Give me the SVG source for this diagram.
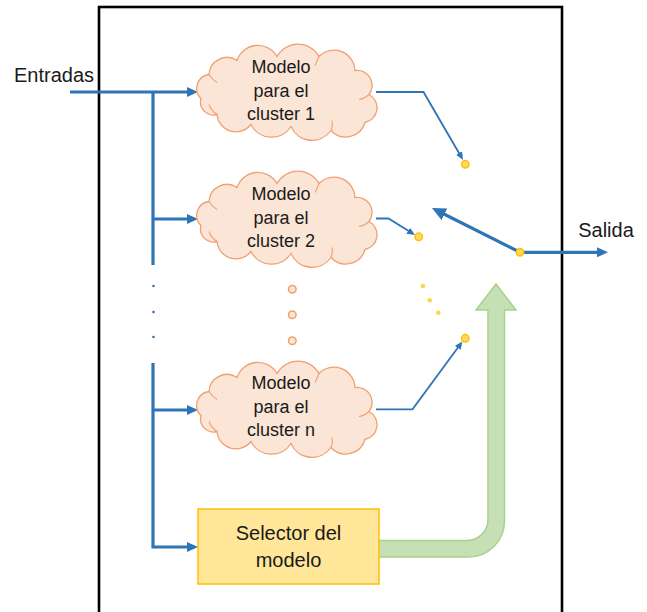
<svg xmlns="http://www.w3.org/2000/svg" xmlns:xlink="http://www.w3.org/1999/xlink" width="647" height="612" viewBox="0 0 647 612">
<style>
  .txt { font-family: "Liberation Sans", Arial, sans-serif; fill: #1a1a1a; text-anchor: middle; }
  .cloudtxt { font-size: 18px; }
  .big { font-size: 20px; }
  .cloud { fill: #FBE5D6; stroke: #F0A070; stroke-width: 1.3; }
  .cloudin { fill: none; stroke: #F0A070; stroke-width: 1.1; }
  .thick { fill: none; stroke: #2E75B6; stroke-width: 3.2; }
  .thin { fill: none; stroke: #2E75B6; stroke-width: 1.8; }
  .ydot { fill: #FFD966; stroke: #FFC000; stroke-width: 1.5; }
  .ysmall { fill: #FFD34D; }
  .odot { fill: #FBE5D6; stroke: #F0A070; stroke-width: 1.5; }
  .bdot { fill: #2E75B6; }
</style>
<defs>
  <marker id="ah" markerUnits="userSpaceOnUse" markerWidth="12" markerHeight="12" refX="3" refY="6" orient="auto">
    <path d="M0,1 L11,6 L0,11 Z" fill="#2E75B6"/>
  </marker>
  <marker id="ahs" markerUnits="userSpaceOnUse" markerWidth="9" markerHeight="8" refX="2" refY="3.5" orient="auto">
    <path d="M0,0 L8,3.5 L0,7 Z" fill="#2E75B6"/>
  </marker>
  <marker id="ahb" markerUnits="userSpaceOnUse" markerWidth="15" markerHeight="14" refX="4" refY="6.5" orient="auto">
    <path d="M0,0 L14,6.5 L0,13 Z" fill="#2E75B6"/>
  </marker>
  <g id="cloudShape">
    <path class="cloud" d="M4,54 A14,14 0 0 1 12,30 A18,18 0 0 1 40,16 A22,22 0 0 1 80,12 A24,24 0 0 1 122,12 A21,21 0 0 1 158,26 A15,15 0 0 1 172,50 A15,15 0 0 1 168,78 A20,20 0 0 1 134,86 A23,23 0 0 1 94,82 A23,23 0 0 1 54,80 A19,19 0 0 1 20,70 A13,13 0 0 1 4,54 Z"/>
    <path class="cloudin" d="M20,70 Q14,66 12,60 M12,30 Q15,35 20,38 M122,12 Q120,17 118,21 M172,50 Q168,54 162,55 M134,86 Q136,81 135,76"/>
  </g>
</defs>

<g id="frame">
  <rect x="99" y="7" width="463" height="620" fill="none" stroke="#000" stroke-width="2.6"/>
</g>

<g id="labels">
  <text class="txt big" x="54" y="82">Entradas</text>
  <text class="txt big" x="606" y="237">Salida</text>
</g>

<g id="connectors">
  <path class="thick" d="M70,92 H190" marker-end="url(#ah)"/>
  <path class="thick" d="M153,92 V265"/>
  <path class="thick" d="M153,219 H190" marker-end="url(#ah)"/>
  <path class="thick" d="M153,363 V547 H190" marker-end="url(#ah)"/>
  <path class="thick" d="M153,410 H190" marker-end="url(#ah)"/>
  <circle class="bdot" cx="153.5" cy="286" r="1.3"/>
  <circle class="bdot" cx="153.5" cy="312" r="1.3"/>
  <circle class="bdot" cx="153.5" cy="337" r="1.3"/>
  <path class="thin" d="M376,92 H423.5 L460,154.8" marker-end="url(#ahs)"/>
  <path class="thin" d="M376,218.5 H388.5 L409.9,231.8" marker-end="url(#ahs)"/>
  <path class="thin" d="M376,409.3 H412.5 L458.9,346.3" marker-end="url(#ahs)"/>
  <path class="thick" d="M520,252.3 L440.9,212.5" marker-end="url(#ahb)"/>
  <path class="thick" d="M520,252.3 H600" marker-end="url(#ah)"/>
  <path id="selector-arrow" d="M378,540.5 H467 A21,21 0 0 0 488,519.5 V310 H476 L496,284 L516,310 H504.5 V521 A36,36 0 0 1 468.5,557 H378 Z" fill="#C5E0B4" stroke="#A9D18E" stroke-width="1.5"/>
</g>

<g id="switch-contacts">
  <circle class="ydot" cx="465.3" cy="164.3" r="3.7"/>
  <circle class="ydot" cx="418.7" cy="236.8" r="3.7"/>
  <circle class="ydot" cx="465.3" cy="338.3" r="3.7"/>
  <circle class="ydot" cx="520" cy="252.3" r="3.7"/>
  <circle class="ysmall" cx="423" cy="286" r="2.3"/>
  <circle class="ysmall" cx="429.7" cy="300.3" r="2.3"/>
  <circle class="ysmall" cx="438.3" cy="312.7" r="2.3"/>
</g>

<g id="cloud1">
  <use xlink:href="#cloudShape" href="#cloudShape" transform="translate(197,44.5)"/>
  <text class="txt cloudtxt" x="281" y="73">Modelo</text>
  <text class="txt cloudtxt" x="281" y="97">para el</text>
  <text class="txt cloudtxt" x="281" y="120">cluster 1</text>
</g>

<g id="cloud2">
  <use xlink:href="#cloudShape" href="#cloudShape" transform="translate(197,171.5)"/>
  <text class="txt cloudtxt" x="281" y="200">Modelo</text>
  <text class="txt cloudtxt" x="281" y="224">para el</text>
  <text class="txt cloudtxt" x="281" y="247">cluster 2</text>
</g>

<g id="ellipsis-dots">
  <circle class="odot" cx="292.3" cy="289.3" r="3.8"/>
  <circle class="odot" cx="292.3" cy="314.7" r="3.8"/>
  <circle class="odot" cx="292.3" cy="340.7" r="3.8"/>
</g>

<g id="cloudn">
  <use xlink:href="#cloudShape" href="#cloudShape" transform="translate(197,361.5)"/>
  <text class="txt cloudtxt" x="281" y="389">Modelo</text>
  <text class="txt cloudtxt" x="281" y="413">para el</text>
  <text class="txt cloudtxt" x="281" y="436">cluster n</text>
</g>

<g id="selector">
  <rect x="198" y="509" width="181" height="75" fill="#FFE699" stroke="#FFC000" stroke-width="1.5"/>
  <text class="txt big" x="288.5" y="540">Selector del</text>
  <text class="txt big" x="288.5" y="567">modelo</text>
</g>
</svg>
